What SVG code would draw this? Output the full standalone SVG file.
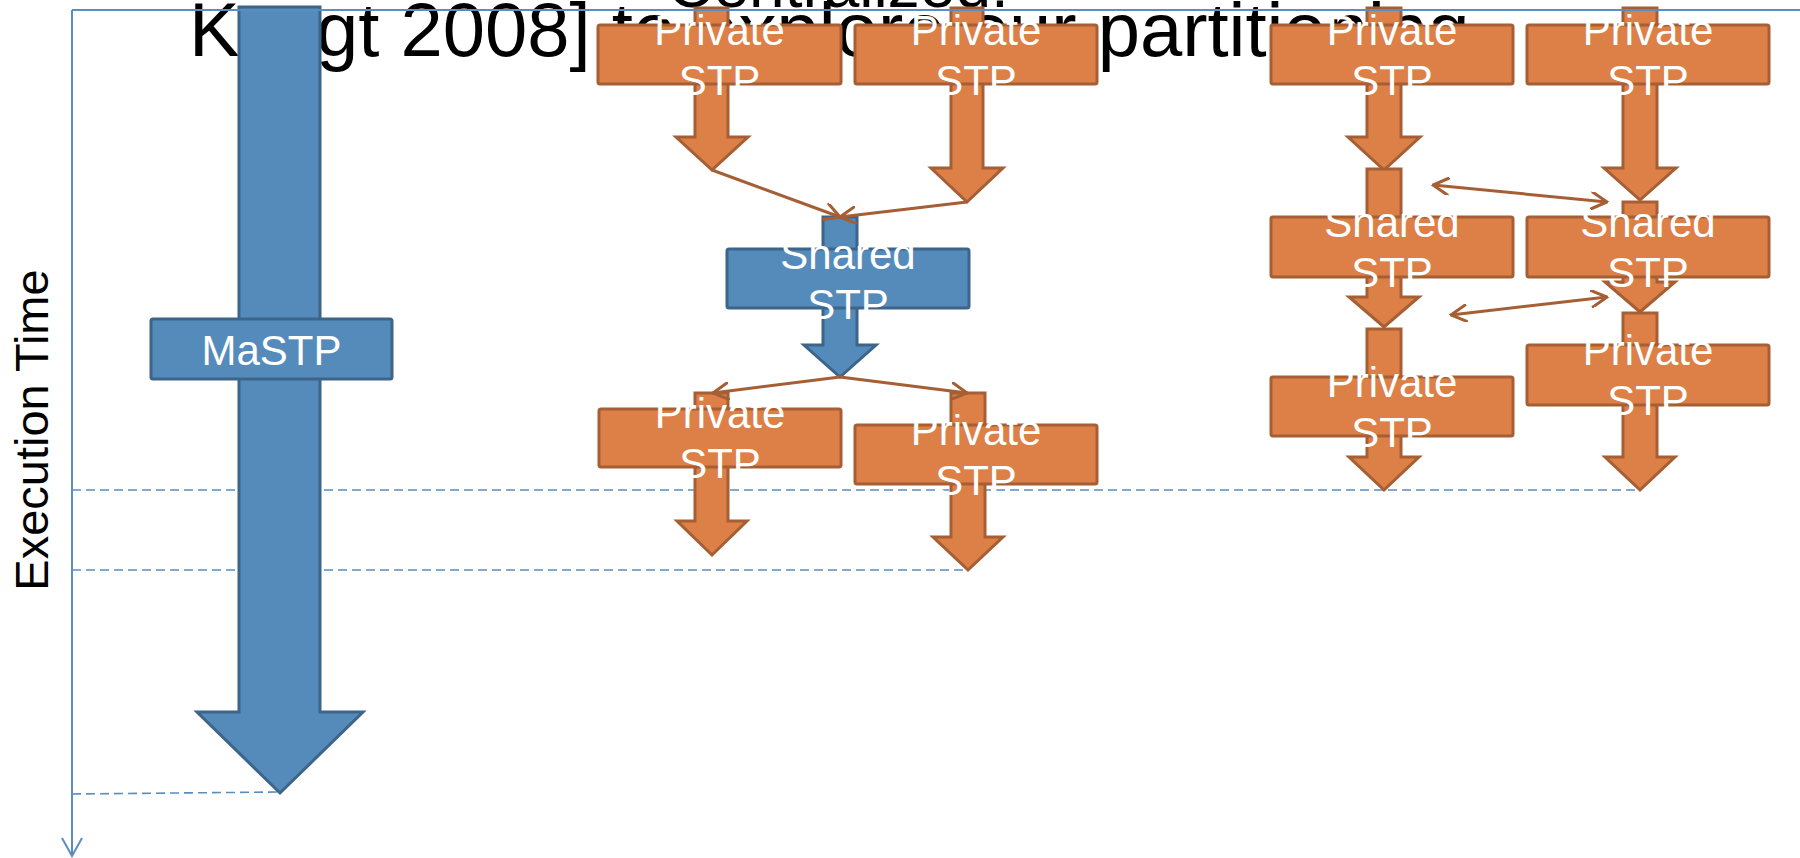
<svg xmlns="http://www.w3.org/2000/svg" width="1800" height="858" viewBox="0 0 1800 858">
  <style>
    .txt{font-family:"Liberation Sans",Arial,sans-serif}
    .title{fill:#000}
    .lbl{font-family:"Liberation Sans",Arial,sans-serif;font-size:42px;fill:#fff;text-anchor:middle}
    .b .s{fill:#558BBA;stroke:#3D6489;stroke-width:3;stroke-linejoin:miter}
    .o .s{fill:#DD8047;stroke:#A65E34;stroke-width:3;stroke-linejoin:miter}
    .dash{stroke:#5A8DC0;stroke-width:1.6;stroke-dasharray:9 5;fill:none}
    .axis{stroke:#5A8DC0;stroke-width:2;fill:none}
    .link{stroke:#A65E34;stroke-width:3;fill:none}
  </style>
  <defs>
    <marker id="open" viewBox="0 0 12 12" refX="11" refY="6" markerWidth="6" markerHeight="6" orient="auto-start-reverse" markerUnits="strokeWidth">
      <path d="M1,0.5 L11,6 L1,11.5" fill="none" stroke="#A65E34" stroke-width="2" stroke-linecap="round"/>
    </marker>
  </defs>

  <!-- heading text, partly covered by the shapes -->
  <g id="heading" class="txt title">
    <text x="838" y="7" font-size="64" text-anchor="middle">Centralized:</text>
    <text y="56" font-size="76"><tspan x="189">K</tspan><tspan x="316">gt 2008] to explore our partitioning</tspan></text>
  </g>

  <!-- time guide lines -->
  <g id="guides">
    <line class="dash" x1="72" y1="490" x2="1640" y2="490"/>
    <line class="dash" x1="72" y1="570" x2="968" y2="570"/>
    <line class="dash" x1="72" y1="794" x2="280" y2="792"/>
  </g>

  <!-- monolithic path -->
  <g id="mastp" class="b">
    <polygon class="s" points="239,7 320,7 320,712 363,712 280,793 197,712 239,712"/>
    <rect class="s" x="151" y="319" width="241" height="60" rx="2"/>
    <text class="lbl" x="271.5" y="365">MaSTP</text>
  </g>

  <!-- centralized: two private paths, shared, two private paths -->
  <g id="c-private-1" class="o">
    <polygon class="s" points="695,8 728,8 728,137 748,137 712,170 676,137 695,137"/>
    <rect class="s" x="598" y="25" width="243" height="59" rx="2"/>
    <text class="lbl" x="719.5" y="44.5">Private</text>
    <text class="lbl" x="719.5" y="94.5">STP</text>
  </g>
  <g id="c-private-2" class="o">
    <polygon class="s" points="951,8 983,8 983,168 1003,168 967,202 931,168 951,168"/>
    <rect class="s" x="855" y="25" width="242" height="59" rx="2"/>
    <text class="lbl" x="976" y="44.5">Private</text>
    <text class="lbl" x="976" y="94.5">STP</text>
  </g>
  <g id="c-shared" class="b">
    <polygon class="s" points="823,217 857,217 857,345 876,345 840,377 804,345 823,345"/>
    <rect class="s" x="727" y="249" width="242" height="59" rx="2"/>
    <text class="lbl" x="848" y="268.5">Shared</text>
    <text class="lbl" x="848" y="318.5">STP</text>
  </g>
  <g id="c-private-3" class="o">
    <polygon class="s" points="695,393 728,393 728,521 747,521 712,555 677,521 695,521"/>
    <rect class="s" x="599" y="409" width="242" height="58" rx="2"/>
    <text class="lbl" x="720" y="428">Private</text>
    <text class="lbl" x="720" y="478">STP</text>
  </g>
  <g id="c-private-4" class="o">
    <polygon class="s" points="951,393 985,393 985,537 1003,537 968,570 933,537 951,537"/>
    <rect class="s" x="855" y="425" width="242" height="59" rx="2"/>
    <text class="lbl" x="976" y="444.5">Private</text>
    <text class="lbl" x="976" y="494.5">STP</text>
  </g>

  <!-- distributed: two columns exchanging state -->
  <g id="d-private-1" class="o">
    <polygon class="s" points="1367,8 1401,8 1401,137 1420,137 1384,170 1348,137 1367,137"/>
    <rect class="s" x="1271" y="25" width="242" height="59" rx="2"/>
    <text class="lbl" x="1392" y="44.5">Private</text>
    <text class="lbl" x="1392" y="94.5">STP</text>
  </g>
  <g id="d-private-2" class="o">
    <polygon class="s" points="1623,8 1657,8 1657,168 1676,168 1640,200 1604,168 1623,168"/>
    <rect class="s" x="1527" y="25" width="242" height="59" rx="2"/>
    <text class="lbl" x="1648" y="44.5">Private</text>
    <text class="lbl" x="1648" y="94.5">STP</text>
  </g>
  <g id="d-shared-1" class="o">
    <polygon class="s" points="1367,169 1401,169 1401,297 1419,297 1384,327 1349,297 1367,297"/>
    <rect class="s" x="1271" y="217" width="242" height="60" rx="2"/>
    <text class="lbl" x="1392" y="237">Shared</text>
    <text class="lbl" x="1392" y="287">STP</text>
  </g>
  <g id="d-shared-2" class="o">
    <polygon class="s" points="1623,202 1657,202 1657,282 1675,282 1640,312 1605,282 1623,282"/>
    <rect class="s" x="1527" y="217" width="242" height="60" rx="2"/>
    <text class="lbl" x="1648" y="237">Shared</text>
    <text class="lbl" x="1648" y="287">STP</text>
  </g>
  <g id="d-private-3" class="o">
    <polygon class="s" points="1367,329 1401,329 1401,457 1419,457 1384,490 1349,457 1367,457"/>
    <rect class="s" x="1271" y="377" width="242" height="59" rx="2"/>
    <text class="lbl" x="1392" y="396.5">Private</text>
    <text class="lbl" x="1392" y="446.5">STP</text>
  </g>
  <g id="d-private-4" class="o">
    <polygon class="s" points="1623,313 1657,313 1657,457 1675,457 1640,490 1605,457 1623,457"/>
    <rect class="s" x="1527" y="345" width="242" height="60" rx="2"/>
    <text class="lbl" x="1648" y="365">Private</text>
    <text class="lbl" x="1648" y="415">STP</text>
  </g>

  <!-- connectors -->
  <g id="connectors">
    <line class="link" x1="712" y1="170" x2="840" y2="217" marker-end="url(#open)"/>
    <line class="link" x1="967" y1="202" x2="840" y2="217" marker-end="url(#open)"/>
    <line class="link" x1="840" y1="377" x2="713" y2="393" marker-end="url(#open)"/>
    <line class="link" x1="840" y1="377" x2="967" y2="393" marker-end="url(#open)"/>
    <line class="link" x1="1433" y1="185" x2="1607" y2="202" marker-start="url(#open)" marker-end="url(#open)"/>
    <line class="link" x1="1451" y1="315" x2="1607" y2="297" marker-start="url(#open)" marker-end="url(#open)"/>
  </g>

  <!-- time axis -->
  <g id="axis">
    <line class="axis" x1="72" y1="10" x2="1800" y2="10"/>
    <line class="axis" x1="72" y1="10" x2="72" y2="856"/>
    <polyline class="axis" points="62,838 72,856 82,838"/>
    <text class="txt" transform="translate(48,430) rotate(-90)" font-size="47" text-anchor="middle" fill="#000">Execution Time</text>
  </g>
</svg>
